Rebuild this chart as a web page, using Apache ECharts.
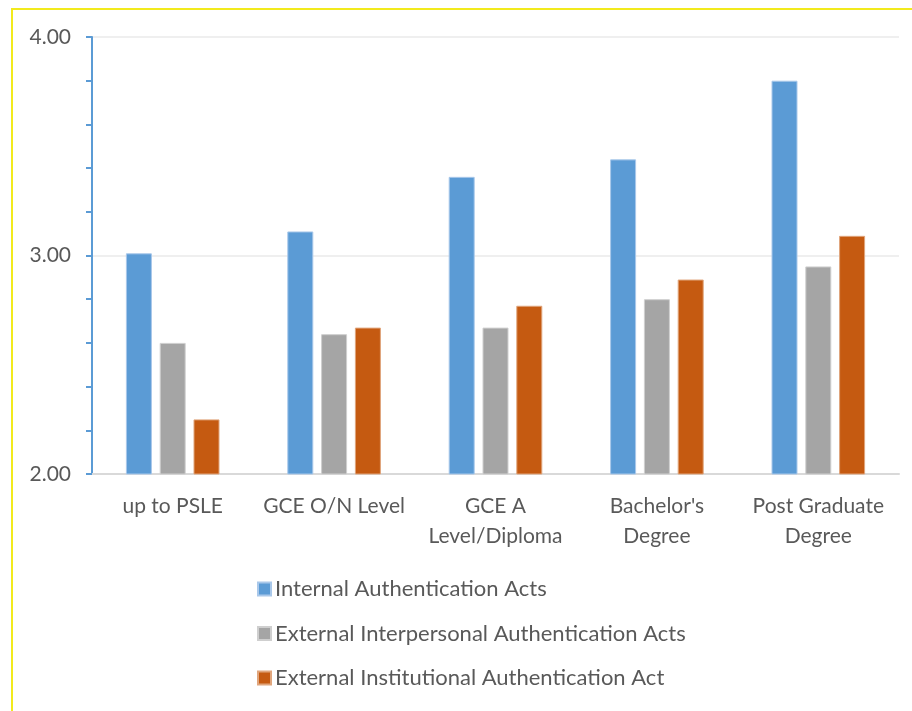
<!DOCTYPE html>
<html>
<head>
<meta charset="utf-8">
<script src="https://cdn.jsdelivr.net/npm/echarts@6/dist/echarts.min.js"></script>
<style>
  html, body { margin: 0; padding: 0; background: #fff; }
  #frame { position: absolute; left: 11px; top: 8px; width: 901px; height: 703px;
           border-left: 2px solid #f2ea1d; border-top: 2px solid #f2ea1d; box-sizing: border-box; }
  #main { position: absolute; left: 0; top: 0; width: 912px; height: 711px; }
</style>
</head>
<body>
<div id="frame"></div>
<div id="main"></div>
<script>
    var myChart = echarts.init(document.getElementById('main'));

    // 教育程度
    var categories = ['up to PSLE', 'GCE O/N Level', 'GCE A\nLevel/Diploma', "Bachelor's\nDegree", 'Post Graduate\nDegree'];
    var seriesNames = ['Internal Authentication Acts', 'External Interpersonal Authentication Acts', 'External Institutional Authentication Act'];
    var internalActs = [3.01, 3.11, 3.36, 3.44, 3.80];
    var interpersonalActs = [2.60, 2.64, 2.67, 2.80, 2.95];
    var institutionalActs = [2.25, 2.67, 2.77, 2.89, 3.09];
    var colors = ['#5b9bd5', '#a5a5a5', '#c55a11'];

    var font = 'Lato, "Open Sans", sans-serif';

    option = {
        textStyle: { fontFamily: font },
        grid: {
            left: 92,
            right: 13,
            top: 37,
            bottom: 237
        },
        legend: {
            orient: 'vertical',
            left: 257,
            top: 578,
            padding: 0,
            itemWidth: 13,
            itemHeight: 13,
            itemGap: 22.5,
            icon: 'rect',
            data: seriesNames,
            textStyle: { color: '#595959', fontSize: 22, fontFamily: font, padding: [0, 0, 0, -1] }
        },
        xAxis: {
            type: 'category',
            data: categories,
            axisLine: { lineStyle: { color: '#d9d9d9', width: 2 } },
            axisTick: { show: false },
            axisLabel: {
                interval: 0,
                color: '#595959',
                fontSize: 21,
                fontFamily: font,
                lineHeight: 30,
                margin: 17
            }
        },
        yAxis: {
            type: 'value',
            min: 2,
            max: 4,
            interval: 1,
            axisLine: { show: true, lineStyle: { color: '#5b9bd5', width: 2 } },
            axisTick: { show: true, length: 6, lineStyle: { color: '#5b9bd5', width: 2 } },
            minorTick: { show: true, splitNumber: 5, length: 6, lineStyle: { color: '#5b9bd5', width: 2 } },
            axisLabel: {
                color: '#595959',
                fontSize: 21,
                fontFamily: font,
                margin: 21,
                formatter: function (v) { return v.toFixed(2); }
            },
            splitLine: { show: true, lineStyle: { color: '#efefef', width: 2 } }
        },
        series: [{
            name: seriesNames[0],
            type: 'bar',
            data: internalActs,
            barWidth: 26,
            barGap: '30%',
            itemStyle: { color: colors[0], borderColor: '#a9c8ea', borderWidth: 1 }
        }, {
            name: seriesNames[1],
            type: 'bar',
            data: interpersonalActs,
            barWidth: 26,
            barGap: '30%',
            itemStyle: { color: colors[1], borderColor: '#cfcfcf', borderWidth: 1 }
        }, {
            name: seriesNames[2],
            type: 'bar',
            data: institutionalActs,
            barWidth: 26,
            barGap: '30%',
            itemStyle: { color: colors[2], borderColor: '#e0a57c', borderWidth: 1 }
        }]
    };

    myChart.setOption(option);
</script>
</body>
</html>
